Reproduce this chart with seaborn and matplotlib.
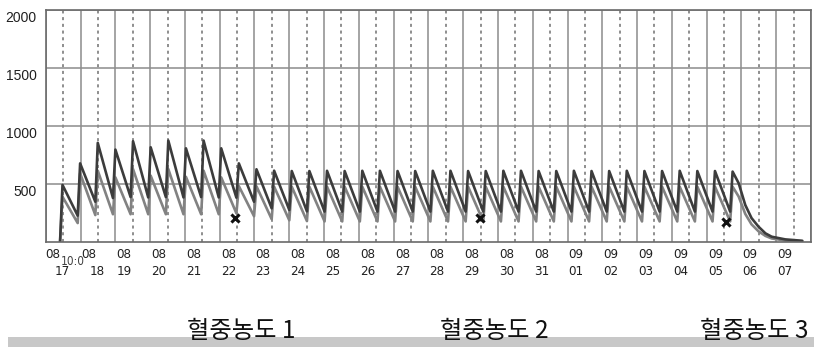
import numpy as np
import pandas as pd
import matplotlib
matplotlib.use("Agg")
import matplotlib.pyplot as plt
from matplotlib.patches import Rectangle
import seaborn as sns

# dosing schedule, in days counted from 08/17 00:00
first_dose_day = 0.41
dose_interval_day = 0.507
rise_day = 0.07

# concentration right after each dose (peak) and just before it (trough)
dark_peaks = [490, 676, 853, 795, 867, 815, 873, 806, 873, 806,
              676, 625, 613, 610, 610, 612, 610, 612, 612, 610,
              610, 612, 612, 610, 610, 612, 612, 610, 610, 612,
              610, 610, 612, 610, 610, 612, 610, 610, 605]
dark_troughs = [0, 225, 345, 377, 385, 382, 385, 382, 385, 382,
                380, 345, 288, 274, 262, 260, 260, 260, 260, 260,
                260, 260, 260, 260, 260, 260, 260, 260, 260, 260,
                260, 260, 260, 260, 260, 260, 260, 260, 260]
light_peaks = [388, 590, 613, 555, 627, 570, 627, 560, 613, 555,
               480, 478, 475, 475, 475, 475, 475, 475, 475, 475,
               475, 475, 475, 475, 475, 475, 475, 475, 475, 475,
               475, 475, 475, 475, 475, 475, 475, 475, 475]
light_troughs = [0, 161, 230, 237, 237, 237, 237, 237, 237, 237,
                 245, 220, 195, 185, 178, 175, 175, 175, 175, 175,
                 175, 175, 175, 175, 175, 175, 175, 175, 175, 175,
                 175, 175, 175, 175, 175, 175, 175, 175, 175]

# wash-out after the last dose
tail_days = [19.92, 20.11, 20.29, 20.49, 20.69, 20.87, 21.26, 21.75]
dark_tail = [505, 317, 204, 130, 72, 43, 20, 8]
light_tail = [390, 240, 150, 90, 50, 28, 10, 3]

# measured levels (x marks)
sample_days = [5.43, 12.47, 19.56]
sample_values = [202, 202, 173]

month_labels = ["08", "08", "08", "08", "08", "08", "08", "08", "08", "08", "08",
                "08", "08", "08", "08", "09", "09", "09", "09", "09", "09", "09"]
day_labels = ["17", "18", "19", "20", "21", "22", "23", "24", "25", "26", "27",
              "28", "29", "30", "31", "01", "02", "03", "04", "05", "06", "07"]
y_labels = [500, 1000, 1500, 2000]
legend_labels = ["혈중농도 1", "혈중농도 2", "혈중농도 3"]


def build_curve(peaks, troughs, tail_vals, name):
    t, c = [], []
    for k, (p, tr) in enumerate(zip(peaks, troughs)):
        d = first_dose_day + k * dose_interval_day
        t += [d, d + rise_day]
        c += [tr, p]
    t += tail_days
    c += tail_vals
    return pd.DataFrame({"day": t, "conc": c, "series": name})


df = pd.concat([build_curve(light_peaks, light_troughs, light_tail, "light"),
                build_curve(dark_peaks, dark_troughs, dark_tail, "dark")],
               ignore_index=True)
samples = pd.DataFrame({"day": sample_days, "conc": sample_values})

sns.set_style("white")
plt.rcParams["font.family"] = ["Liberation Sans", "DejaVu Sans"]

W, H = 814, 347
fig = plt.figure(figsize=(W / 100, H / 100), dpi=100)
ax = fig.add_axes([45.8 / W, 105.3 / H, (811 - 45.8) / W, (241.7 - 10) / H])

sns.lineplot(data=df, x="day", y="conc", hue="series", estimator=None, sort=False,
             palette={"light": "#828282", "dark": "#3c3c3c"}, linewidth=1.9,
             legend=False, ax=ax)
sns.scatterplot(data=samples, x="day", y="conc", marker="x", color="#111111",
                s=34, linewidth=2.2, ax=ax, zorder=5)

ax.set_xlim(0, 22)
ax.set_ylim(0, 2000)
ax.set_xticks(np.arange(0, 23, 1))
ax.set_xticks(np.arange(0.5, 22, 1), minor=True)
ax.set_yticks([500, 1000, 1500, 2000])
ax.grid(which="major", axis="both", color="#8c8c8c", linewidth=1.1, linestyle="-")
ax.grid(which="minor", axis="x", color="#707070", linewidth=1.1, linestyle=(0, (2.0, 2.4)))
ax.set_axisbelow(True)
ax.tick_params(which="both", length=0, labelbottom=False, labelleft=False)
ax.set_xlabel("")
ax.set_ylabel("")
for sp in ax.spines.values():
    sp.set_color("#6a6a6a")
    sp.set_linewidth(1.2)

# y labels sit a little below their grid line
for v in y_labels:
    ax.annotate(str(v), xy=(0, v), xycoords=("axes fraction", "data"),
                xytext=(-6.5, -6), textcoords="offset points",
                ha="right", va="center", fontsize=10, color="#202020")

# two-row date labels
narrow = ["Liberation Sans Narrow", "DejaVu Sans"]
for i, (m, d) in enumerate(zip(month_labels, day_labels)):
    xm = i + 0.25
    xd = i + 0.25
    if i == 0:
        xm, xd = 0.21, 0.46
    elif i == 1:
        xm, xd = 1.24, 1.47
    ax.annotate(m, xy=(xm, 0), xycoords=("data", "axes fraction"),
                xytext=(0, -9), textcoords="offset points", ha="center", va="center",
                fontsize=9.5, family=narrow, stretch="condensed", color="#202020")
    ax.annotate(d, xy=(xd, 0), xycoords=("data", "axes fraction"),
                xytext=(0, -21.5), textcoords="offset points", ha="center", va="center",
                fontsize=9.5, family=narrow, stretch="condensed", color="#202020")
ax.annotate("10:0", xy=(0.79, 0), xycoords=("data", "axes fraction"),
            xytext=(0, -14.5), textcoords="offset points", ha="center", va="center",
            fontsize=8.5, family=narrow, stretch="condensed", color="#404040")

# grey strip with the series captions
fig.patches.append(Rectangle((8 / W, 0), 1 - 8 / W, 10.3 / H, transform=fig.transFigure,
                             facecolor="#c8c8c8", edgecolor="none", zorder=0))
for lbl, xp in zip(legend_labels, [187, 440, 700]):
    fig.text(xp / W, 3.5 / H, lbl, ha="left", va="bottom", fontsize=17.5,
             family=["Noto Sans CJK KR", "DejaVu Sans"], color="#111111", zorder=2)

fig.savefig("out.png", dpi=100)
